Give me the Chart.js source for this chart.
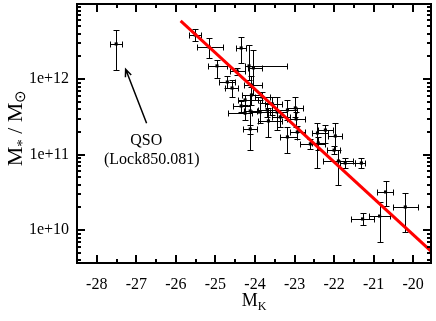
<!DOCTYPE html>
<html>
<head>
<meta charset="utf-8">
<script src="https://cdn.jsdelivr.net/npm/chart.js@4.4.1/dist/chart.umd.min.js"></script>
<style>
  html, body { margin: 0; padding: 0; background: #fff; }
</style>
</head>
<body>
<canvas id="massChart" width="436" height="321"></canvas>
<script>
// K-band absolute magnitude, with the ends of the horizontal error bar
const mk   = [-27.51, -25.51, -25.16, -24.35, -24.96, -24.15, -24.04, -24.45, -24.70, -24.58,
              -24.09, -24.09, -24.25, -24.25, -24.12, -24.12, -23.87, -23.66, -23.69, -23.44,
              -23.36, -23.18, -22.98, -22.96, -23.18, -22.93, -22.42, -22.22, -22.60, -21.97,
              -22.00, -21.89, -21.72, -21.31, -20.70, -20.20, -20.85, -21.28, -22.40, -23.82,
              -23.56, -24.35];
const mkLo = [-27.66, -25.66, -25.46, -24.47, -25.18, -24.25, -24.17, -24.63, -24.91, -24.75,
              -24.27, -24.32, -24.42, -24.68, -24.27, -24.30, -24.12, -23.92, -23.92, -23.61,
              -23.56, -23.44, -23.18, -23.18, -23.36, -23.11, -22.55, -22.40, -22.85, -22.15,
              -22.17, -22.27, -21.84, -21.46, -20.91, -20.50, -21.13, -21.56, -22.55, -23.99,
              -23.74, -24.55];
const mkHi = [-27.36, -25.36, -24.80, -24.22, -24.70, -23.18, -23.82, -24.25, -24.50, -24.42,
              -23.82, -23.82, -23.92, -24.07, -23.94, -23.94, -23.61, -23.31, -23.44, -23.18,
              -23.11, -22.93, -22.78, -22.73, -22.93, -22.73, -22.15, -22.02, -22.22, -21.79,
              -21.84, -21.51, -21.46, -21.21, -20.50, -19.89, -20.58, -20.98, -22.22, -23.61,
              -23.31, -24.12];

// stellar mass (solar masses), with the ends of the vertical error bar
const mass   = [2.93e12, 3.85e12, 2.67e12, 2.59e12, 1.50e12, 1.50e12, 1.41e12, 1.28e12, 9.18e11, 7.64e11,
                8.38e11, 6.18e11, 5.31e11, 3.57e11, 3.79e11, 2.19e11, 3.68e11, 2.80e11, 3.91e11, 3.68e11,
                3.16e11, 3.91e11, 4.16e11, 2.97e11, 1.72e11, 2.00e11, 1.94e11, 2.12e11, 1.39e11, 1.77e11,
                1.15e11, 8.26e10, 7.77e10, 7.77e10, 3.21e10, 2.03e10, 1.54e10, 1.41e10, 1.43e11, 5.81e11,
                4.70e11, 4.42e11];
const massHi = [4.49e12, 4.62e12, 3.51e12, 3.62e12, 1.80e12, 2.84e12, 2.44e12, 1.41e12, 1.10e12, 9.75e11,
                1.10e12, 7.88e11, 6.18e11, 4.55e11, 6.18e11, 2.47e11, 5.31e11, 4.16e11, 4.84e11, 5.81e11,
                3.91e11, 5.31e11, 5.81e11, 3.68e11, 2.33e11, 2.40e11, 2.63e11, 2.47e11, 1.62e11, 2.63e11,
                1.30e11, 1.15e11, 9.04e10, 9.04e10, 4.49e10, 3.11e10, 2.36e10, 1.69e10, 1.72e11, 6.76e11,
                5.81e11, 5.14e11];
const massLo = [1.32e12, 3.21e12, 1.91e12, 1.64e12, 1.04e12, 9.75e11, 6.18e11, 1.14e12, 7.64e11, 5.81e11,
                6.18e11, 4.55e11, 4.42e11, 2.88e11, 1.15e11, 1.88e11, 2.63e11, 1.72e11, 3.16e11, 2.12e11,
                2.33e11, 2.88e11, 3.16e11, 2.33e11, 1.05e11, 1.62e11, 6.67e10, 1.43e11, 1.19e11, 1.15e11,
                1.02e11, 3.97e10, 6.67e10, 6.67e10, 2.09e10, 9.47e9, 6.98e9, 1.17e10, 1.15e11, 4.84e11,
                3.36e11, 3.68e11];

// red relation, end points
const fitMk   = [-25.88, -19.55];
const fitMass = [5.9e12, 5.3e9];

// annotation: text lines and where they sit, arrow tail -> head
const noteLines = ['QSO', '(Lock850.081)'];
const noteMk    = [-26.75, -26.61];
const noteMass  = [1.35e11, 7.6e10];
const arrowMk   = [-26.74, -27.27];
const arrowMass = [2.61e11, 1.35e12];

Chart.defaults.font.family = '"Liberation Serif", "Times New Roman", serif';
Chart.defaults.color = '#000';

const errorBars = {
  id: 'errorBars',
  beforeDatasetsDraw(chart) {
    const { ctx, scales: { x, y } } = chart;
    ctx.save();
    ctx.strokeStyle = '#000';
    ctx.lineWidth = 1;
    ctx.beginPath();
    mk.forEach((m, i) => {
      const cx = Math.round(x.getPixelForValue(m)) + 0.5;
      const cy = Math.round(y.getPixelForValue(mass[i])) + 0.5;
      const x0 = Math.round(x.getPixelForValue(mkLo[i])) + 0.5;
      const x1 = Math.round(x.getPixelForValue(mkHi[i])) + 0.5;
      const y0 = Math.round(y.getPixelForValue(massHi[i])) + 0.5;
      const y1 = Math.round(y.getPixelForValue(massLo[i])) + 0.5;
      ctx.moveTo(x0, cy); ctx.lineTo(x1, cy);
      ctx.moveTo(x0, cy - 3); ctx.lineTo(x0, cy + 3);
      ctx.moveTo(x1, cy - 3); ctx.lineTo(x1, cy + 3);
      ctx.moveTo(cx, y0); ctx.lineTo(cx, y1);
      ctx.moveTo(cx - 3, y0); ctx.lineTo(cx + 3, y0);
      ctx.moveTo(cx - 3, y1); ctx.lineTo(cx + 3, y1);
    });
    ctx.stroke();
    ctx.restore();
  }
};

const frame = {
  id: 'frame',
  afterDraw(chart) {
    const { ctx, chartArea: a, scales: { x, y } } = chart;
    ctx.save();
    ctx.strokeStyle = '#000';
    ctx.lineWidth = 2;
    ctx.strokeRect(a.left, a.top, a.right - a.left, a.bottom - a.top);

    // inward ticks on all four sides
    ctx.beginPath();
    for (let v = Math.ceil(x.min * 2) / 2; v <= x.max; v += 0.5) {
      const px = Math.round(x.getPixelForValue(v));
      if (px <= a.left + 1 || px >= a.right - 1) continue;
      const len = Number.isInteger(v) ? 8 : 4;
      ctx.moveTo(px, a.bottom); ctx.lineTo(px, a.bottom - len);
      ctx.moveTo(px, a.top); ctx.lineTo(px, a.top + len);
    }
    const e0 = Math.floor(Math.log10(y.min)), e1 = Math.ceil(Math.log10(y.max));
    for (let e = e0; e <= e1; e++) {
      for (let k = 1; k < 10; k++) {
        const v = k * Math.pow(10, e);
        if (v <= y.min || v >= y.max) continue;
        const py = Math.round(y.getPixelForValue(v));
        const len = k === 1 ? 8 : 4;
        ctx.moveTo(a.left, py); ctx.lineTo(a.left + len, py);
        ctx.moveTo(a.right, py); ctx.lineTo(a.right - len, py);
      }
    }
    ctx.stroke();

    // arrow pointing at the QSO
    const tailX = x.getPixelForValue(arrowMk[0]), tailY = y.getPixelForValue(arrowMass[0]);
    const tipX = x.getPixelForValue(arrowMk[1]), tipY = y.getPixelForValue(arrowMass[1]);
    ctx.lineWidth = 1.5;
    ctx.beginPath();
    ctx.moveTo(tailX, tailY); ctx.lineTo(tipX, tipY);
    const ang = Math.atan2(tipY - tailY, tipX - tailX);
    ctx.moveTo(tipX - 8 * Math.cos(ang - 0.4), tipY - 8 * Math.sin(ang - 0.4));
    ctx.lineTo(tipX, tipY);
    ctx.lineTo(tipX - 8 * Math.cos(ang + 0.4), tipY - 8 * Math.sin(ang + 0.4));
    ctx.stroke();

    ctx.fillStyle = '#000';
    ctx.textAlign = 'center';
    ctx.textBaseline = 'alphabetic';
    ctx.font = '16px "Liberation Serif"';
    noteLines.forEach((t, i) => {
      ctx.fillText(t, x.getPixelForValue(noteMk[i]), y.getPixelForValue(noteMass[i]));
    });

    // axis titles with subscripts
    let big = '18px "Liberation Serif"', small = '12px "Liberation Serif"';
    ctx.textAlign = 'left';
    ctx.font = big; const wM = ctx.measureText('M').width;
    ctx.font = small; const wK = ctx.measureText('K').width;
    const xs = (a.left + a.right) / 2 - (wM + wK) / 2;
    ctx.font = big; ctx.fillText('M', xs, 306);
    ctx.font = small; ctx.fillText('K', xs + wM, 310);

    big = '22px "Liberation Serif"'; small = '15px "Liberation Serif"';
    const parts = [['M', big, 0], ['*', small, 5], [' / M', big, 0], ['\u2299', small, 3]];
    let total = 0;
    parts.forEach(p => { ctx.font = p[1]; total += ctx.measureText(p[0]).width; });
    ctx.translate(22, 128);
    ctx.rotate(-Math.PI / 2);
    let cx = -total / 2;
    parts.forEach(p => {
      ctx.font = p[1];
      ctx.fillText(p[0], cx, p[2]);
      cx += ctx.measureText(p[0]).width;
    });
    ctx.restore();
  }
};

new Chart(document.getElementById('massChart'), {
  type: 'scatter',
  data: {
    datasets: [{
      type: 'line',
      label: 'relation',
      data: fitMk.map((m, i) => ({ x: m, y: fitMass[i] })),
      borderColor: '#ff0000',
      borderWidth: 3,
      pointRadius: 0,
      showLine: true,
      fill: false
    }, {
      label: 'galaxies',
      data: mk.map((m, i) => ({ x: m, y: mass[i] })),
      pointStyle: 'rect',
      pointRadius: 2.2,
      pointBorderWidth: 0,
      backgroundColor: '#000',
      borderColor: '#000'
    }]
  },
  options: {
    responsive: false,
    animation: false,
    layout: { padding: { top: 4, right: 5, left: 0, bottom: 0 } },
    plugins: { legend: { display: false }, tooltip: { enabled: false } },
    scales: {
      x: {
        type: 'linear',
        min: -28.5,
        max: -19.55,
        grid: { display: false, drawTicks: false },
        border: { display: false },
        ticks: { stepSize: 1, includeBounds: false, padding: 12, maxRotation: 0, autoSkip: false,
                 font: { size: 16 } },
        afterFit(scale) {
          scale.height = 58;
          scale.paddingLeft = 0; scale.paddingRight = 0;
        }
      },
      y: {
        type: 'logarithmic',
        min: 3.68e9,
        max: 9.9e12,
        grid: { display: false, drawTicks: false },
        border: { display: false },
        ticks: {
          padding: 8,
          autoSkip: false,
          font: { size: 16 },
          callback(value) {
            const e = Math.log10(value);
            return Math.abs(e - Math.round(e)) < 1e-9 ? '1e+' + Math.round(e) : '';
          }
        },
        afterFit(scale) {
          scale.width = 77;
          scale.paddingTop = 0; scale.paddingBottom = 0;
        }
      }
    }
  },
  plugins: [errorBars, frame]
});
</script>
</body>
</html>
